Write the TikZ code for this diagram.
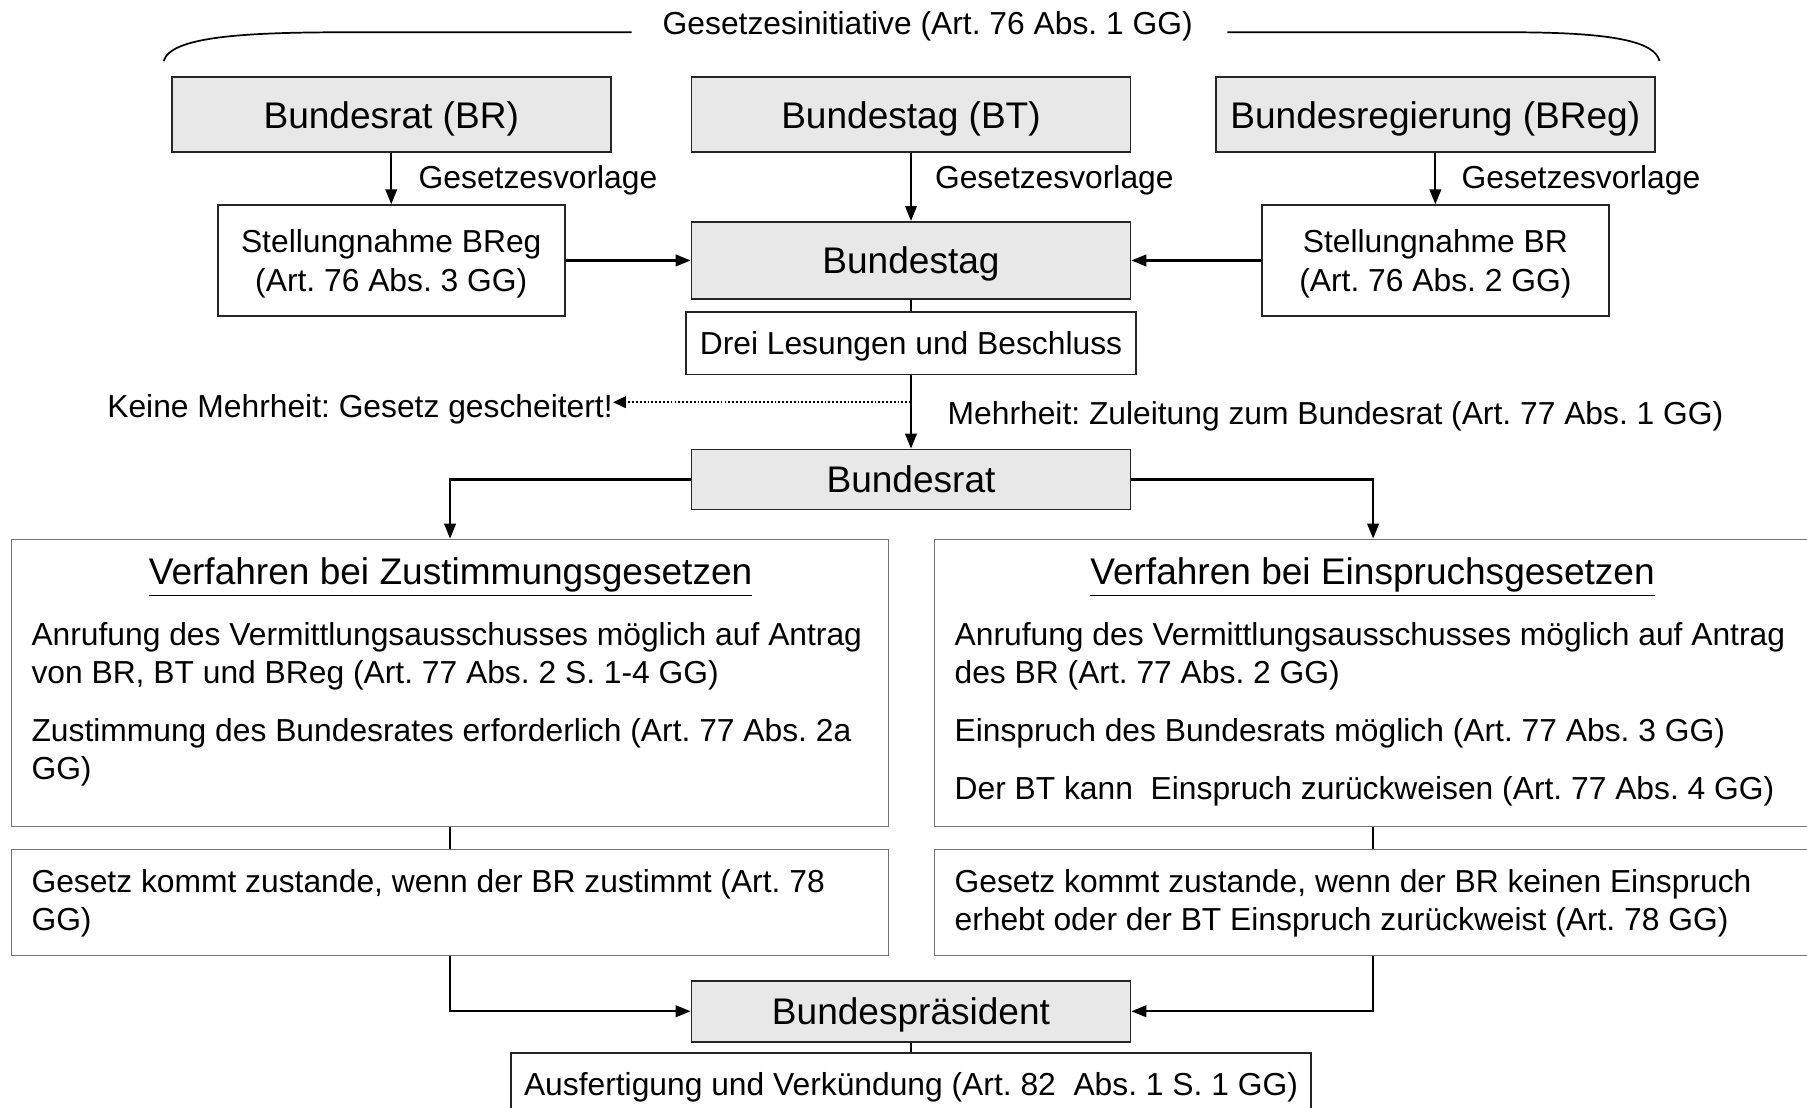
\documentclass[tikz,border=0pt]{standalone}
\usepackage{fontspec}
\setmainfont{Liberation Sans}
\usetikzlibrary{arrows.meta}
\frenchspacing

\begin{document}
\begin{tikzpicture}[x=0.02cm,y=-0.02cm]
	\useasboundingbox (0,0) rectangle (1568,961);
	
	\tikzstyle{graybox}=[rectangle,
	draw=black!85,
	fill=black!9,
	line width=0.85pt,
	inner sep=0pt,
	text depth=0pt,
	minimum width=7.62cm,
	font=\fontsize{18.3}{22}\selectfont
	]
	\tikzstyle{whitebox}=[rectangle,
	draw=black!85,
	fill=white,
	line width=0.85pt,
	inner sep=0pt,
	text depth=0pt,
	align=center,
	font=\fontsize{15.7}{18.8}\selectfont
	]
	\tikzstyle{bigbox}=[rectangle, draw=black!55, line width=0.7pt, inner sep=0pt, minimum width=15.22cm]
	\tikzstyle{mytext}=[inner sep=0pt, font=\fontsize{15.7}{18.8}\selectfont]
	\tikzstyle{headtext}=[inner sep=0pt, font=\fontsize{18.3}{22}\selectfont]
	\tikzstyle{bodytext}=[mytext, align=left, anchor=north west]
	\tikzstyle{myline}=[-, line width=0.85pt]
	\tikzstyle{myarrow}=[-{Triangle[length=0.26cm,width=0.2cm]}, line width=1.1pt]
	\tikzstyle{mydotted}=[-{Triangle[length=0.22cm,width=0.2cm]}, densely dotted, line width=0.9pt]
	
	% Initiative
	\node[mytext, anchor=base] (gi) at (805,29.5) {Gesetzesinitiative (Art. 76 Abs. 1 GG)};
	\draw[myline] (142,53) .. controls (148,32) and (210,28) .. (300,28) -- (548,28);
	\draw[myline] (1065,28) -- (1310,28) .. controls (1400,28) and (1436,36) .. (1440,53);
	
	\node[graybox, minimum height=1.3cm] (br) at (339.5,99.5) {Bundesrat (BR)};
	\node[graybox, minimum height=1.3cm] (bt) at (790.5,99.5) {Bundestag (BT)};
	\node[graybox, minimum height=1.3cm] (breg) at (1245.5,99.5) {Bundesregierung (BReg)};
	
	\node[mytext, anchor=west] (gv1) at (363,156) {Gesetzesvorlage};
	\node[mytext, anchor=west] (gv2) at (811,156) {Gesetzesvorlage};
	\node[mytext, anchor=west] (gv3) at (1268,156) {Gesetzesvorlage};
	
	% Bundestag
	\node[whitebox, minimum width=6.02cm, minimum height=1.92cm] (stbreg) at (339.5,226) {Stellungnahme BReg\\(Art. 76 Abs. 3 GG)};
	\node[whitebox, minimum width=6.02cm, minimum height=1.92cm] (stbr) at (1245.5,226) {Stellungnahme BR\\(Art. 76 Abs. 2 GG)};
	\node[graybox, minimum height=1.34cm] (bt2) at (790.5,226) {Bundestag};
	\node[whitebox, minimum width=7.8cm, minimum height=1.08cm] (drei) at (790.5,298) {Drei Lesungen und Beschluss};
	
	\coordinate (split) at (790.5,349);
	\node[mytext, anchor=east] (keine) at (532,355) {Keine Mehrheit: Gesetz gescheitert!};
	\node[mytext, anchor=west] (mehr) at (822,361) {Mehrheit: Zuleitung zum Bundesrat (Art. 77 Abs. 1 GG)};
	
	% Bundesrat
	\node[graybox, minimum height=1.04cm] (brat) at (790.5,416) {Bundesrat};
	
	\node[bigbox, minimum height=4.98cm] (zust) at (390.5,592.5) {};
	\node[bigbox, minimum height=4.98cm] (einspr) at (1191.5,592.5) {};
	\node[headtext] (zusthead) at (391,501) {\underline{Verfahren bei Zustimmungsgesetzen}};
	\node[headtext] (einsprhead) at (1191,501) {\underline{Verfahren bei Einspruchsgesetzen}};
	\node[bodytext] (zusttxt) at (27,540) {Anrufung des Vermittlungsausschusses möglich auf Antrag\\von BR, BT und BReg (Art. 77 Abs. 2 S. 1-4 GG)\\[9.7pt]Zustimmung des Bundesrates erforderlich (Art. 77 Abs. 2a\\GG)};
	\node[bodytext] (einsprtxt) at (828,540) {Anrufung des Vermittlungsausschusses möglich auf Antrag\\des BR (Art. 77 Abs. 2 GG)\\[9.7pt]Einspruch des Bundesrats möglich (Art. 77 Abs. 3 GG)\\[9.7pt]Der BT kann~ Einspruch zurückweisen (Art. 77 Abs. 4 GG)};
	
	\node[bigbox, minimum height=1.84cm] (zustres) at (390.5,783) {};
	\node[bigbox, minimum height=1.84cm] (einsprres) at (1191.5,783) {};
	\node[bodytext] (zustrestxt) at (27,754) {Gesetz kommt zustande, wenn der BR zustimmt (Art. 78\\GG)};
	\node[bodytext] (einsprrestxt) at (828,754) {Gesetz kommt zustande, wenn der BR keinen Einspruch\\erhebt oder der BT Einspruch zurückweist (Art. 78 GG)};
	
	% Bundespraesident
	\node[graybox, minimum height=1.06cm] (bp) at (790.5,877.5) {Bundespräsident};
	\node[whitebox, minimum width=13.88cm, minimum height=1.08cm] (ausf) at (790.5,941) {Ausfertigung und Verkündung (Art. 82~ Abs. 1 S. 1 GG)};
	
	\draw[myarrow] (br) -- (stbreg);
	\draw[myarrow] (bt) -- (bt2);
	\draw[myarrow] (breg) -- (stbr);
	\draw[myarrow] (stbreg) -- (bt2);
	\draw[myarrow] (stbr) -- (bt2);
	\draw[myline] (bt2) -- (drei);
	\draw[myarrow] (drei) -- (brat);
	\draw[mydotted] (split) -- (split -| keine.east);
	
	\draw[myarrow] (brat.west) -| (zust.north);
	\draw[myarrow] (brat.east) -| (einspr.north);
	\draw[myline] (zust) -- (zustres);
	\draw[myline] (einspr) -- (einsprres);
	\draw[myarrow] (zustres.south) |- (bp.west);
	\draw[myarrow] (einsprres.south) |- (bp.east);
	\draw[myline] (bp) -- (ausf);
	
\end{tikzpicture}
\end{document}
